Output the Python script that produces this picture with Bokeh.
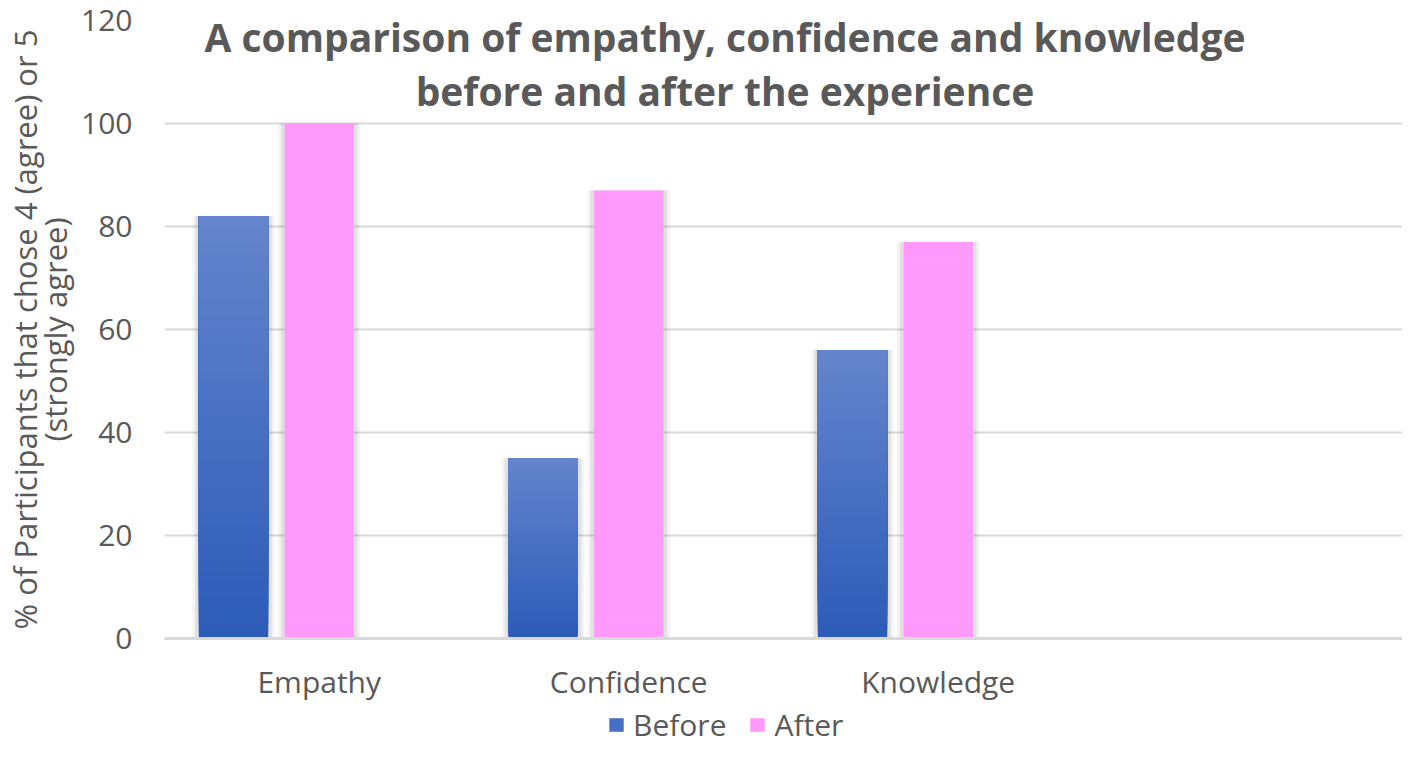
import numpy as np
from bokeh.plotting import figure
from bokeh.layouts import column
from bokeh.models import Range1d, FixedTicker, LinearAxis, Legend, LegendItem, Label, ColumnDataSource, Grid
from bokeh.embed import file_html
from bokeh.resources import INLINE

# ---- data ----
categories = ["Empathy", "Confidence", "Knowledge", ""]
before = [82, 35, 56]
after = [100, 87, 77]
series_names = ["Before", "After"]
y_ticks = [0, 20, 40, 60, 80, 100, 120]
title_lines = ["A comparison of empathy, confidence and knowledge",
               "before and after the experience"]
y_label_lines = ["% of Participants that chose 4 (agree) or 5", "(strongly agree)"]

FONT = "Open Sans"
TXT = "#595959"
GRID = "#d9d9d9"
BLUE_TOP = np.array([100, 133, 204])
BLUE_BOT = np.array([44, 91, 184])
PINK = "#ff99fb"
BLUE_LEG = "#4470c6"

BAR_W = 0.224
OFF_BEFORE = -0.277
OFF_AFTER = 0.0

W = 1402
FRAME_LEFT = 161
p = figure(width=W, height=704,
           x_range=Range1d(0, len(categories)), y_range=Range1d(0, 120),
           output_backend="svg", toolbar_location=None,
           min_border_top=20, min_border_right=0, min_border_bottom=63, min_border_left=FRAME_LEFT,
           x_axis_location=None, y_axis_location=None)
p.outline_line_color = None
p.background_fill_color = "white"
p.border_fill_color = "white"
p.xgrid.visible = False
p.ygrid.visible = False

# y axis with tick labels and a two-line axis label
yax = LinearAxis(ticker=FixedTicker(ticks=y_ticks))
yax.axis_line_color = None
yax.major_tick_line_color = None
yax.minor_tick_line_color = None
yax.major_tick_out = 0
yax.major_tick_in = 0
yax.major_label_standoff = 32
yax.major_label_text_font = FONT
yax.major_label_text_font_size = "30px"
yax.major_label_text_color = TXT
yax.axis_label = "\n".join(y_label_lines)
yax.axis_label_text_font = FONT
yax.axis_label_text_font_size = "31px"
yax.axis_label_text_font_style = "normal"
yax.axis_label_text_color = TXT
yax.axis_label_text_line_height = 0.72
yax.axis_label_standoff = 2
p.add_layout(yax, "left")

# x axis
centers = [i + 0.5 for i in range(len(categories))]
xax = LinearAxis(ticker=FixedTicker(ticks=centers))
xax.major_label_overrides = {c: lab for c, lab in zip(centers, categories)}
xax.axis_line_color = GRID
xax.axis_line_width = 3
xax.major_tick_line_color = None
xax.minor_tick_line_color = None
xax.major_tick_out = 0
xax.major_label_standoff = 22
xax.major_label_text_font = FONT
xax.major_label_text_font_size = "30px"
xax.major_label_text_color = TXT
p.add_layout(xax, "below")

g = Grid(dimension=1, ticker=FixedTicker(ticks=y_ticks), grid_line_color=GRID, grid_line_width=2)
p.add_layout(g)

# ---- bars ----
n = len(before)
x_before = [centers[i] + OFF_BEFORE for i in range(n)]
x_after = [centers[i] + OFF_AFTER for i in range(n)]

# soft shadows
for xs, vals in ((x_before, before), (x_after, after)):
    p.vbar(x=xs, top=vals, bottom=0, width=BAR_W + 0.042, fill_color="black", fill_alpha=0.045, line_color=None)
    p.vbar(x=xs, top=vals, bottom=0, width=BAR_W + 0.024, fill_color="black", fill_alpha=0.075, line_color=None)

# gradient "Before" bars: overlapping slices, each from its level up to the bar top
N = 60
gx, gb, gt, gc = [], [], [], []
for k in range(N):
    f = (k + 0.5) / N
    c = BLUE_BOT + (BLUE_TOP - BLUE_BOT) * f
    col = "#%02x%02x%02x" % tuple(int(round(t)) for t in c)
    for xi, v in zip(x_before, before):
        gx.append(xi)
        gb.append(v * k / N)
        gt.append(v)
        gc.append(col)
src = ColumnDataSource(dict(x=gx, bottom=gb, top=gt, color=gc))
p.vbar(x="x", bottom="bottom", top="top", width=BAR_W, fill_color="color", line_color=None, source=src)

p.vbar(x=x_after, top=after, bottom=0, width=BAR_W, fill_color=PINK, line_color=None)

# ---- title (inside plot area) ----
tx = 1.811
for line, ty in zip(title_lines, [116.9, 106.5]):
    p.add_layout(Label(x=tx, y=ty, text=line, text_align="center", text_baseline="middle",
                       text_font=FONT, text_font_style="bold", text_font_size="39px",
                       text_color=TXT))

# ---- legend strip (separate small figure below, frame aligned with the chart) ----
lf = figure(width=W, height=41, x_range=Range1d(0, 1), y_range=Range1d(0, 1),
            output_backend="svg", toolbar_location=None,
            min_border=0, min_border_left=FRAME_LEFT, x_axis_location=None, y_axis_location=None)
lf.outline_line_color = None
lf.background_fill_color = "white"
lf.border_fill_color = "white"
lf.xgrid.visible = False
lf.ygrid.visible = False
# keyed renderers lie below the strip's visible range; only their legend swatches show
r_before = lf.vbar(x=[0.5], bottom=[-30], top=[-20], width=0.01, fill_color=BLUE_LEG, line_color=None)
r_after = lf.vbar(x=[0.5], bottom=[-30], top=[-20], width=0.01, fill_color=PINK, line_color=None)
legend = Legend(items=[LegendItem(label=series_names[0], renderers=[r_before]),
                       LegendItem(label=series_names[1], renderers=[r_after])],
                location=(604 - FRAME_LEFT, 0), orientation="horizontal",
                border_line_color=None, background_fill_alpha=0,
                label_text_font=FONT, label_text_font_size="30px", label_text_color=TXT,
                glyph_width=18, glyph_height=17, spacing=22, label_standoff=8,
                padding=0, margin=0)
lf.add_layout(legend)

layout = column(p, lf, spacing=0)
open("out.html", "w").write(file_html(layout, INLINE))
